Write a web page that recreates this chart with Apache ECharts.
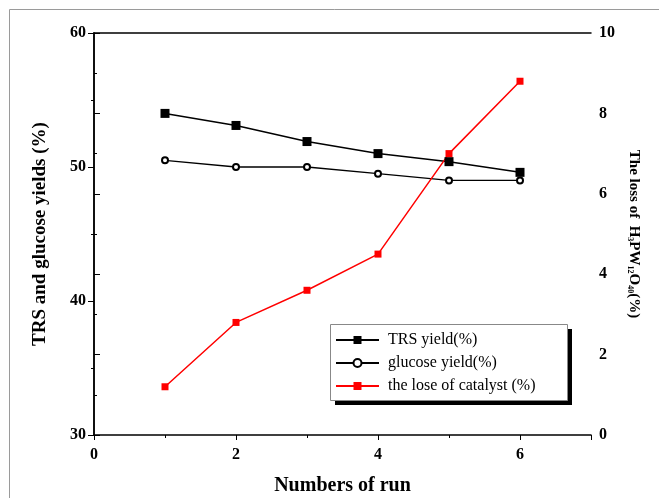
<!DOCTYPE html>
<html>
<head>
<meta charset="utf-8">
<script src="https://cdn.jsdelivr.net/npm/echarts@6/dist/echarts.min.js"></script>
<style>html,body{margin:0;padding:0;background:#fff;}#c{width:659px;height:498px;}</style>
</head>
<body>
<div id="c"></div>
<script>
const runs = [1, 2, 3, 4, 5, 6];
const trsYield = [54.0, 53.1, 51.9, 51.0, 50.4, 49.6];
const glucoseYield = [50.5, 50.0, 50.0, 49.5, 49.0, 49.0];
const catalystLoss = [1.2, 2.8, 3.6, 4.5, 7.0, 8.8];
const seriesNames = ['TRS yield(%)', 'glucose yield(%)', 'the lose of catalyst (%)'];

const pairs = (ys) => runs.map((x, i) => [x, ys[i]]);
const serif = 'Liberation Serif';

const chart = echarts.init(document.getElementById('c'));
chart.setOption({
  backgroundColor: '#fff',
  animation: false,
  graphic: [{
    type: 'rect', silent: true, z: 0,
    shape: { x: 9.5, y: 9.5, width: 680, height: 520 },
    style: { fill: 'none', stroke: '#9a9a9a', lineWidth: 1 }
  }, {
    type: 'rect', silent: true, z: 1,
    shape: { x: 335, y: 329, width: 237, height: 76 },
    style: { fill: '#000' }
  }, {
    type: 'rect', silent: true, z: 2,
    shape: { x: 330.5, y: 324.5, width: 237, height: 76 },
    style: { fill: '#fff', stroke: '#888', lineWidth: 1 }
  }],
  grid: { left: 94, right: 68, top: 33, bottom: 63, outerBoundsMode: 'none' },
  legend: {
    orient: 'vertical',
    left: 330, top: 325,
    padding: [7, 30, 7, 5],
    itemGap: 7,
    itemWidth: 43, itemHeight: 10,
    textStyle: { fontFamily: serif, fontSize: 16, color: '#000', padding: [0, 0, 0, 4] },
    data: seriesNames
  },
  xAxis: [{
    type: 'value', min: 0, max: 7, interval: 2,
    name: 'Numbers of run', nameLocation: 'middle', nameGap: 41,
    nameTextStyle: { fontFamily: serif, fontWeight: 'bold', fontSize: 20, color: '#000' },
    axisLine: { lineStyle: { color: '#000', width: 1.5 } },
    axisTick: { length: 5, lineStyle: { color: '#000' } },
    minorTick: { show: true, splitNumber: 2, length: 3, lineStyle: { color: '#000' } },
    axisLabel: {
      fontFamily: serif, fontWeight: 'bold', fontSize: 16, color: '#000', margin: 12,
      formatter: v => (v % 2 === 0 ? String(v) : '')
    },
    splitLine: { show: false }
  }, {
    type: 'value', min: 0, max: 7, position: 'top',
    axisLine: { show: true, lineStyle: { color: '#000', width: 1.5 } },
    axisTick: { show: false }, axisLabel: { show: false }, splitLine: { show: false }
  }],
  yAxis: [{
    type: 'value', min: 30, max: 60, interval: 10,
    name: 'TRS and glucose yields (%)', nameLocation: 'middle', nameGap: 44, nameRotate: 90,
    nameTextStyle: { fontFamily: serif, fontWeight: 'bold', fontSize: 19, color: '#000' },
    axisLine: { show: true, lineStyle: { color: '#000', width: 1.5 } },
    axisTick: { length: 6, lineStyle: { color: '#000' } },
    minorTick: { show: true, splitNumber: 2, length: 3, lineStyle: { color: '#000' } },
    axisLabel: { fontFamily: serif, fontWeight: 'bold', fontSize: 16, color: '#000', margin: 8 },
    splitLine: { show: false }
  }, {
    type: 'value', min: 0, max: 10, interval: 2, position: 'right',
    name: 'The loss of  H{s|3}PW{s|12}O{s|40}(%)', nameLocation: 'middle', nameGap: 30, nameRotate: -90,
    nameTextStyle: {
      fontFamily: serif, fontWeight: 'bold', fontSize: 15, color: '#000',
      rich: { s: { fontFamily: serif, fontWeight: 'bold', fontSize: 8, color: '#000', verticalAlign: 'bottom', padding: [8, 0, 0, 0] } }
    },
    axisLine: { show: true, lineStyle: { color: '#000', width: 1.5 } },
    axisTick: { length: 6, lineStyle: { color: '#000' } },
    minorTick: { show: true, splitNumber: 2, length: 3, lineStyle: { color: '#000' } },
    axisLabel: { fontFamily: serif, fontWeight: 'bold', fontSize: 16, color: '#000', margin: 8 },
    splitLine: { show: false }
  }],
  series: [{
    name: seriesNames[0], type: 'line', yAxisIndex: 0,
    data: pairs(trsYield),
    symbol: 'rect', symbolSize: 9,
    itemStyle: { color: '#000' },
    lineStyle: { color: '#000', width: 1.5 }
  }, {
    name: seriesNames[1], type: 'line', yAxisIndex: 0,
    data: pairs(glucoseYield),
    symbol: 'emptyCircle', symbolSize: 6,
    itemStyle: { color: '#000', borderWidth: 1.2 },
    lineStyle: { color: '#000', width: 1.3 }
  }, {
    name: seriesNames[2], type: 'line', yAxisIndex: 1,
    data: pairs(catalystLoss),
    symbol: 'rect', symbolSize: 7,
    itemStyle: { color: '#ff0000' },
    lineStyle: { color: '#ff0000', width: 1.5 }
  }]
});
</script>
</body>
</html>
